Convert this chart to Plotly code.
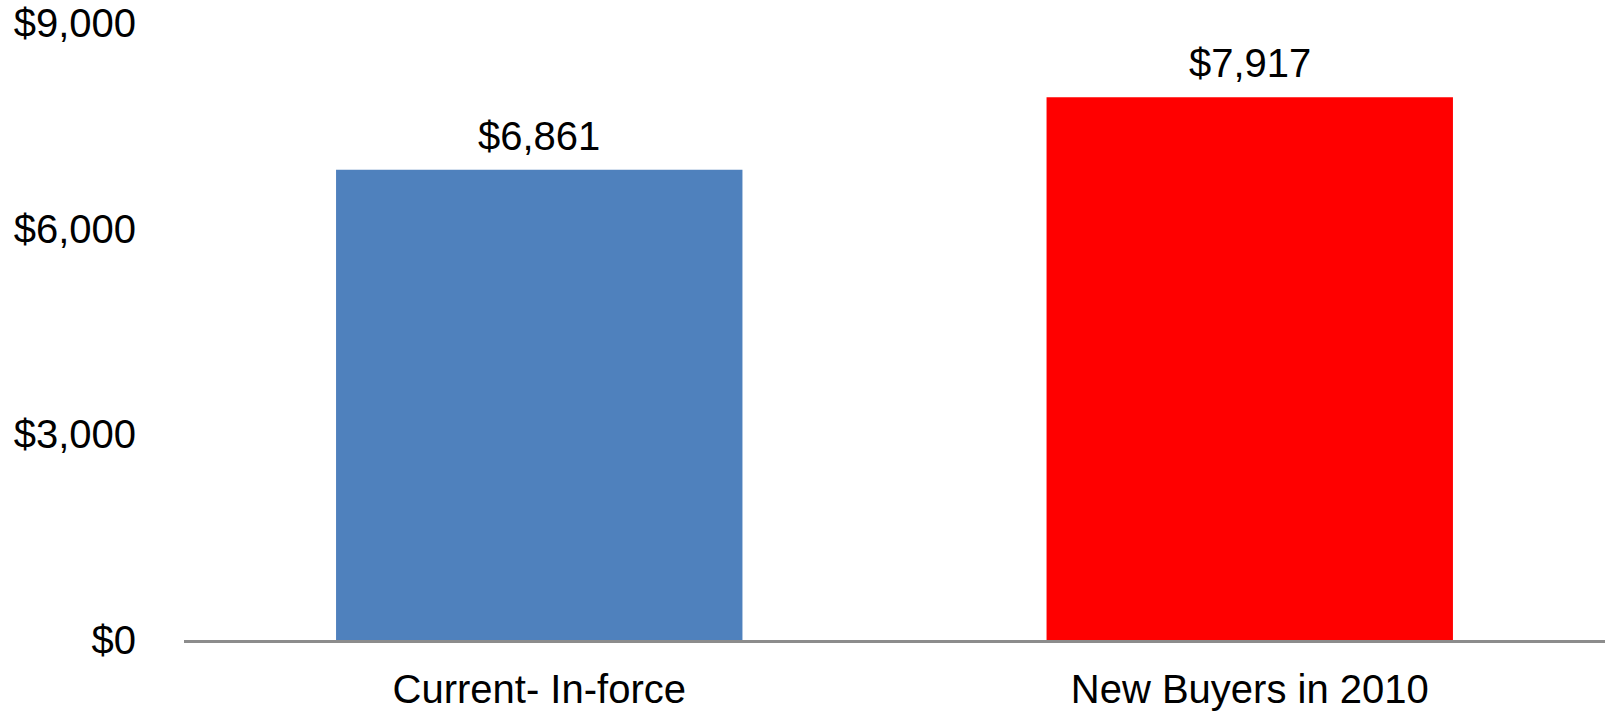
import plotly.graph_objects as go

categories = ["Current- In-force", "New Buyers in 2010"]
values = [6861, 7917]
bar_colors = ["#4F81BD", "#FF0000"]
y_ticks = [0, 3000, 6000, 9000]
y_tick_labels = ["$0", "$3,000", "$6,000", "$9,000"]

FONT = "Liberation Sans, Arial, sans-serif"

fig = go.Figure()
fig.add_trace(go.Bar(
    x=categories,
    y=values,
    marker=dict(color=bar_colors, line=dict(width=0)),
    width=0.572,
    hoverinfo="skip",
))

for c, v in zip(categories, values):
    fig.add_annotation(
        x=c, y=v, text=f"${v:,}", showarrow=False,
        yanchor="middle", yshift=34,
        font=dict(family=FONT, size=40, color="#000000"),
    )

fig.update_layout(
    width=1606, height=713,
    margin=dict(l=184, r=1, t=23, b=73, autoexpand=False),
    paper_bgcolor="white", plot_bgcolor="white",
    showlegend=False,
    font=dict(family=FONT, size=40, color="#000000"),
    bargap=0.428,
)
fig.update_xaxes(
    range=[-0.5, 1.5], automargin=False,
    showline=True, linecolor="#8C8C8C", linewidth=3,
    showgrid=False, ticks="", zeroline=False,
    tickfont=dict(family=FONT, size=40, color="#000000"),
    ticklabelstandoff=12,
)
fig.update_yaxes(
    range=[0, 9000], automargin=False,
    tickvals=y_ticks, ticktext=y_tick_labels,
    showline=False, showgrid=False, zeroline=False, ticks="",
    tickfont=dict(family=FONT, size=40, color="#000000"),
    ticklabelstandoff=47,
)

fig.write_html(
    "out.html",
    config={"displayModeBar": False},
    post_script="document.body.style.margin='0';document.body.style.overflow='hidden';",
)
